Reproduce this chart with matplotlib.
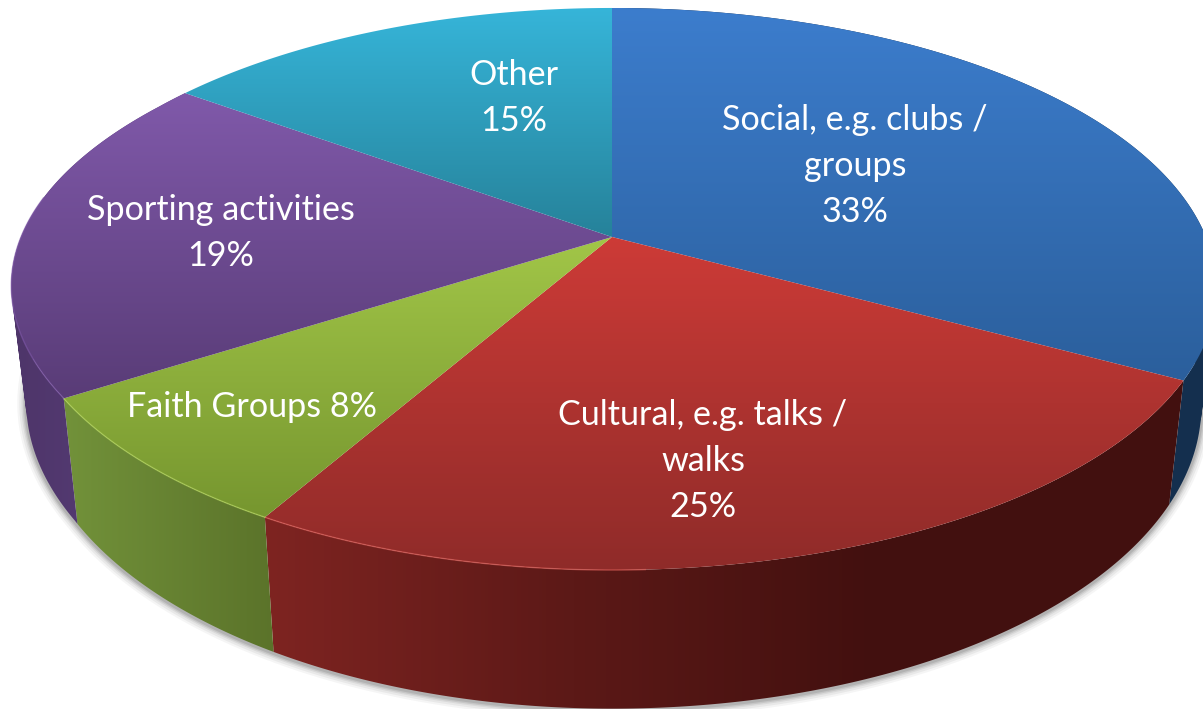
import numpy as np
import matplotlib
matplotlib.use("Agg")
import matplotlib.pyplot as plt
from matplotlib.colors import LinearSegmentedColormap
from matplotlib.patches import PathPatch, Polygon
from matplotlib.path import Path

# clockwise from 12 o'clock
labels = ["Social, e.g. clubs /\ngroups\n33%", "Cultural, e.g. talks /\nwalks\n25%",
          "Faith Groups 8%", "Sporting activities\n19%", "Other\n15%"]
values = [33, 25.3, 7.7, 19, 15]
top_cols = [("#3c7dcd", "#2b5f9c"), ("#cd3b37", "#8f2b29"), ("#a2c648", "#76962f"),
            ("#8059aa", "#593c77"), ("#36b5d9", "#26829a")]
side_cols = [("#122845", "#15304f"), ("#7e2421", "#5c1917", "#42100f", "#42100f"),
             ("#72923a", "#5b732a"), ("#4e3569", "#5b407e"), ("#26829a", "#26829a")]
rim_cols = ["#3c7dcd", "#e0605a", "#b4d65a", "#8059aa", "#36b5d9"]
label_pos = [(855, 166), (703, 461), (252, 407), (221, 233), (514, 98)]

# perspective of the pie plane, in pixels
cx, cy = 612, 237
ax_right, ax_left, ax_b, k = 594, 585, 271.4, 0.185
depth, shrink = 113, 0.975


def top_pts(ang):
    u, v = np.sin(ang), np.cos(ang)
    w = 1 + k * v
    left = ax_left + 40 * np.maximum(0, -u - 0.85)
    return cx + np.where(u < 0, left, ax_right) * u / w, cy - ax_b * v / w


def low_pts(ang):
    x, y = top_pts(ang)
    w = 1 + k * np.cos(ang)
    return cx + (x - cx) * shrink, y + depth / w


def clip_grad(ax, patch, extent, cols, horizontal, zorder):
    ax.add_patch(patch)
    cmap = LinearSegmentedColormap.from_list("g", cols)
    grad = np.linspace(0, 1, 256)
    grad = grad.reshape(1, -1) if horizontal else grad.reshape(-1, 1)
    im = ax.imshow(grad, cmap=cmap, aspect="auto", zorder=zorder, origin="upper",
                   extent=extent, interpolation="bilinear")
    im.set_clip_path(patch)


fig = plt.figure(figsize=(12.03, 7.09), dpi=100)
ax = fig.add_axes([0, 0, 1, 1])
ax.axis("off")

edges = np.radians(np.cumsum([0] + values) * 3.6)

# soft shadow along the lower edge
a_front = np.linspace(np.radians(70), np.radians(290), 400)
lx, ly = low_pts(a_front)
for lw, alpha in zip([13, 10, 7, 5, 3], [0.05, 0.07, 0.09, 0.12, 0.15]):
    ax.plot(lx, ly + 1, color="#444444", lw=lw, alpha=alpha, zorder=1,
            solid_capstyle="butt")

# sides: quads all wound the same way so the fold at the silhouette stays filled
for i in range(len(values) - 1):
    a = np.linspace(edges[i], edges[i + 1], 220)
    tx, ty = top_pts(a)
    bx, by = low_pts(a)
    verts, codes = [], []
    for j in range(len(a) - 1):
        q = [(tx[j], ty[j]), (tx[j + 1], ty[j + 1]), (bx[j + 1], by[j + 1]), (bx[j], by[j])]
        area = sum(q[n][0] * q[(n + 1) % 4][1] - q[(n + 1) % 4][0] * q[n][1] for n in range(4))
        if area < 0:
            q = q[::-1]
        verts += q + [q[0]]
        codes += [Path.MOVETO, Path.LINETO, Path.LINETO, Path.LINETO, Path.CLOSEPOLY]
    patch = PathPatch(Path(verts, codes), fc="none", ec="none", transform=ax.transData)
    xmin, xmax = min(tx.min(), bx.min()), max(tx.max(), bx.max())
    ymin, ymax = min(ty.min(), by.min()), max(ty.max(), by.max())
    clip_grad(ax, patch, [xmin, xmax, ymax, ymin], side_cols[i], True, 2)

for i in range(len(values)):
    a = np.linspace(edges[i], edges[i + 1], 200)
    tx, ty = top_pts(a)
    xs = np.r_[cx, tx]
    ys = np.r_[cy, ty]
    poly = Polygon(np.column_stack([xs, ys]), closed=True, fc="none", ec="none",
                   transform=ax.transData)
    clip_grad(ax, poly, [xs.min(), xs.max(), ys.max(), ys.min()], top_cols[i], False, 3)
    front = (np.cos(a) < 0.15) & (tx < 650)
    if i in (1, 2, 3):
        ax.plot(tx[front], ty[front], color=rim_cols[i], lw=1.0, alpha=0.6, zorder=4)

for pos, txt in zip(label_pos, labels):
    ax.text(pos[0], pos[1], txt, color="white", fontsize=24.6, family=["Lato", "DejaVu Sans"],
            ha="center", va="center", linespacing=1.53, zorder=5)

ax.set_xlim(0, 1203)
ax.set_ylim(709, 0)
fig.savefig("out.png", dpi=100, facecolor="white")
